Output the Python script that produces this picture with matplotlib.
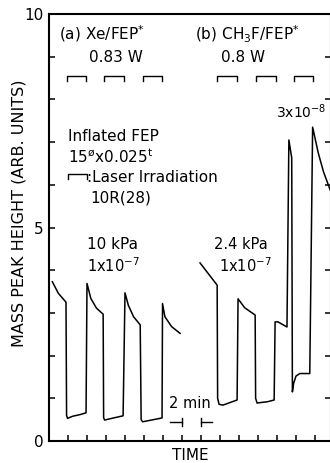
import matplotlib
matplotlib.use("Agg")
import matplotlib.pyplot as plt
import numpy as np

plt.rcParams['font.family'] = ['DejaVu Sans']
plt.rcParams['mathtext.fontset'] = 'dejavusans'
plt.rcParams['mathtext.default'] = 'regular'

# ---- data (time in minutes, mass peak height in arb. units) ----
time_a = [0.35, 0.98, 1.79, 1.85, 1.95, 2.5, 3.3, 3.9, 4.0, 4.4, 5.0, 5.7,
          5.75, 5.85, 6.8, 7.8, 8.0, 8.35, 8.9, 9.6, 9.7, 9.85, 11.0, 11.9,
          11.95, 12.2, 12.9, 13.8]
height_a = [3.73, 3.46, 3.25, 0.60, 0.53, 0.58, 0.62, 0.66, 3.69, 3.34, 3.11, 2.97,
            0.55, 0.49, 0.54, 0.59, 3.47, 3.18, 2.91, 2.72, 0.50, 0.45, 0.50, 0.54,
            3.22, 2.91, 2.68, 2.52]

time_b = [15.9, 17.7, 17.75, 17.9, 18.3, 19.8, 19.9, 20.6, 21.7, 21.75, 21.9,
          23.0, 23.7, 23.8, 24.1, 25.05, 25.25, 25.55, 25.62, 25.75, 26.0, 26.4,
          27.3, 27.45, 27.75, 28.35, 28.9, 29.6, 30.5]
height_b = [4.17, 3.65, 1.00, 0.86, 0.84, 0.96, 3.33, 3.12, 2.95, 1.00, 0.89,
            0.92, 0.96, 2.79, 2.79, 2.67, 7.05, 6.63, 1.15, 1.35, 1.52, 1.58,
            1.58, 1.58, 7.35, 6.74, 6.30, 5.88, 5.50]

laser_a = [(1.9, 3.9), (5.8, 7.9), (9.9, 11.9)]
laser_b = [(17.7, 19.8), (21.8, 23.9), (25.8, 27.8)]

y_major = [0, 5, 10]
y_labels = ["0", "5", "10"]

# ---- figure ----
fig = plt.figure(figsize=(3.30, 4.63), dpi=100)
ax = fig.add_axes([49/330, 22/463, 282/330, 427/463])
ax.set_xlim(0, 282/9.5)
ax.set_ylim(0, 10)

lw = 1.1
ax.plot(time_a, height_a, color='black', lw=lw, solid_joinstyle='round')
ax.plot(time_b, height_b, color='black', lw=lw, solid_joinstyle='round')

# laser irradiation markers
bar_y, bar_d = 8.55, 0.12
for lo, hi in laser_a + laser_b:
    ax.plot([lo, lo, hi, hi], [bar_y - bar_d, bar_y, bar_y, bar_y - bar_d],
            color='black', lw=1.0)

# legend bracket for laser irradiation
ax.plot([2.0, 2.0, 4.0, 4.0], [6.13, 6.25, 6.25, 6.13], color='black', lw=1.0)

# 2 min scale
ax.plot([12.7, 14.0], [0.445, 0.445], color='black', lw=1.0)
ax.plot([14.0, 14.0], [0.35, 0.54], color='black', lw=1.0)
ax.plot([16.0, 17.2], [0.445, 0.445], color='black', lw=1.0)
ax.plot([16.0, 16.0], [0.35, 0.54], color='black', lw=1.0)

fs = 11
ax.text(1.05, 9.53, r"(a) Xe/FEP$^{*}$", fontsize=fs, va='center', ha='left')
ax.text(7.0, 8.98, "0.83 W", fontsize=fs, va='center', ha='center')
ax.text(15.4, 9.53, r"(b) CH$_3$F/FEP$^{*}$", fontsize=fs, va='center', ha='left')
ax.text(20.4, 8.98, "0.8 W", fontsize=fs, va='center', ha='center')
ax.text(2.0, 7.14, "Inflated FEP", fontsize=fs, va='center', ha='left')
ax.text(2.0, 6.65, r"15$^{\o}$x0.025$^{t}$", fontsize=fs, va='center', ha='left')
ax.text(4.0, 6.16, ":Laser Irradiation", fontsize=fs, va='center', ha='left')
ax.text(4.3, 5.69, "10R(28)", fontsize=fs, va='center', ha='left')
ax.text(4.0, 4.61, "10 kPa", fontsize=fs, va='center', ha='left')
ax.text(4.0, 4.10, r"1x10$^{-7}$", fontsize=10.5, va='center', ha='left')
ax.text(17.4, 4.61, "2.4 kPa", fontsize=10.5, va='center', ha='left')
ax.text(17.9, 4.10, r"1x10$^{-7}$", fontsize=10.5, va='center', ha='left')
ax.text(23.9, 7.72, r"3x10$^{-8}$", fontsize=10, va='center', ha='left')
ax.text(14.85, 0.87, "2 min", fontsize=10.5, va='center', ha='center')

# axes styling
for s in ax.spines.values():
    s.set_linewidth(1.5)
ax.set_yticks(y_major)
ax.set_yticklabels(y_labels, fontsize=11)
ax.set_yticks(np.arange(0, 11, 1), minor=True)
ax.set_xticks(np.arange(0, 29, 2))
ax.set_xticklabels([])
ax.tick_params(axis='both', which='both', direction='in', length=4, width=1.1,
               right=True, top=False)
ax.tick_params(axis='y', which='major', pad=4)

# axis titles placed at the reference positions
fig.text(19/330, 1 - 213/463, "MASS PEAK HEIGHT (ARB. UNITS)", rotation=90,
         fontsize=11.5, ha='center', va='center')
fig.text(190/330, 1 - 456/463, "TIME", fontsize=11, ha='center', va='center')

fig.savefig("out.png", dpi=100)
